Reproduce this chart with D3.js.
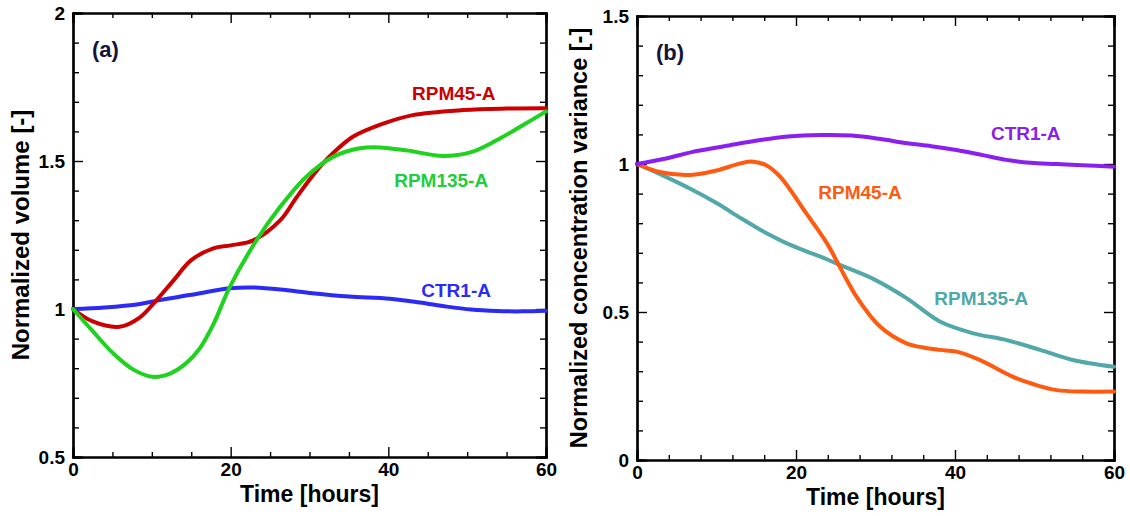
<!DOCTYPE html>
<html>
<head>
<meta charset="utf-8">
<script src="https://cdn.jsdelivr.net/npm/d3@7"></script>
<style>
  html, body { margin: 0; padding: 0; background: #fff; }
  svg { display: block; }
  text { font-family: "Liberation Sans", Arial, sans-serif; font-weight: bold; }
</style>
</head>
<body>
<svg id="chart" width="1130" height="516"></svg>
<script>
// ---- Panel (a): normalized volume ----
const timeVolRpm45 = [0, 2.5, 5.9, 8.5, 10.6, 12.7, 15, 17.8, 20, 22.9, 26.3, 28.4, 31.3, 33, 35.5, 38.9, 43.1, 49.5, 55, 60];
const volRpm45 = [1.0, 0.958, 0.94, 0.972, 1.03, 1.095, 1.165, 1.205, 1.215, 1.232, 1.30, 1.379, 1.48, 1.527, 1.582, 1.622, 1.655, 1.672, 1.677, 1.678];

const timeVolRpm135 = [0, 2.5, 5.1, 7.6, 10.1, 12.3, 14.4, 16.1, 17.8, 19.9, 23.3, 26.3, 29.6, 33, 36.4, 38.9, 42.5, 46.9, 50.5, 53.8, 57, 60];
const volRpm135 = [1.0, 0.925, 0.85, 0.796, 0.771, 0.782, 0.818, 0.868, 0.948, 1.075, 1.233, 1.346, 1.447, 1.514, 1.543, 1.546, 1.535, 1.517, 1.53, 1.571, 1.62, 1.667];

const timeVolCtr1 = [0, 4, 8.5, 11, 14.8, 19.9, 22.5, 26.3, 30.4, 35, 40.2, 44, 47.4, 50.5, 53.8, 57, 60];
const volCtr1 = [1.0, 1.005, 1.017, 1.03, 1.047, 1.07, 1.073, 1.066, 1.053, 1.042, 1.035, 1.022, 1.008, 0.998, 0.993, 0.992, 0.994];

// ---- Panel (b): normalized concentration variance ----
const timeVarCtr1 = [0, 3.5, 7, 11, 15.5, 19, 23, 27, 30.5, 34, 37, 40.2, 43.5, 46.5, 49.5, 52.8, 56, 60];
const varCtr1 = [1.0, 1.018, 1.041, 1.06, 1.081, 1.093, 1.098, 1.096, 1.085, 1.07, 1.06, 1.047, 1.03, 1.014, 1.004, 1.0, 0.996, 0.991];

const timeVarRpm45 = [0, 3, 6.7, 10, 13, 14.6, 16.3, 18, 21.3, 23.9, 25.5, 27.6, 30.6, 33.9, 36, 38.1, 40.2, 43.1, 47.3, 50, 52.8, 56, 60];
const varRpm45 = [1.0, 0.972, 0.963, 0.978, 1.002, 1.008, 0.995, 0.957, 0.833, 0.732, 0.653, 0.552, 0.45, 0.394, 0.38, 0.372, 0.366, 0.338, 0.281, 0.255, 0.236, 0.231, 0.231];

const timeVarRpm135 = [0, 3.5, 7, 10, 13, 15.5, 17.1, 19, 21.3, 23.4, 25.5, 29.7, 33.9, 38.1, 42.3, 46.5, 50.7, 54.8, 60];
const varRpm135 = [1.0, 0.958, 0.912, 0.868, 0.818, 0.778, 0.755, 0.73, 0.705, 0.684, 0.659, 0.612, 0.547, 0.468, 0.428, 0.405, 0.372, 0.338, 0.315];

// ---- Axis ticks ----
const xMajorTicks = [0, 20, 40, 60];
const xMinorTicksA = [5, 10, 15, 25, 30, 35, 45, 50, 55];
const xMinorTicksB = [4, 8, 12, 16, 24, 28, 32, 36, 44, 48, 52, 56];
const yMajorTicksA = [0.5, 1, 1.5, 2];
const yMinorTicksA = [0.6, 0.7, 0.8, 0.9, 1.1, 1.2, 1.3, 1.4, 1.6, 1.7, 1.8, 1.9];
const yMajorTicksB = [0, 0.5, 1, 1.5];
const yMinorTicksB = [0.1, 0.2, 0.3, 0.4, 0.6, 0.7, 0.8, 0.9, 1.1, 1.2, 1.3, 1.4];

// ---- Series labels (anchored in data units) ----
const labelsA = [
  { text: "RPM45-A", t: 48.3, v: 1.73, color: "#cc0000" },
  { text: "RPM135-A", t: 46.7, v: 1.436, color: "#22cc3a" },
  { text: "CTR1-A", t: 48.6, v: 1.064, color: "#2b2bf5" }
];
const labelsB = [
  { text: "CTR1-A", t: 48.9, v: 1.105, color: "#8a22e6" },
  { text: "RPM45-A", t: 28.05, v: 0.905, color: "#ff5a0f" },
  { text: "RPM135-A", t: 43.3, v: 0.547, color: "#4fa8a8" }
];

const svg = d3.select("#chart");

function drawPanel(cfg) {
  const { left, top, right, bottom } = cfg.box;
  const x = d3.scaleLinear().domain([0, 60]).range([left, right]);
  const y = d3.scaleLinear().domain(cfg.yDomain).range([bottom, top]);
  const g = svg.append("g");

  const fmt = d => String(d);

  // Bottom axis with labels (ticks pointing inward)
  const bot = g.append("g").attr("transform", `translate(0,${bottom})`);
  bot.call(d3.axisBottom(x).tickValues(xMajorTicks).tickSize(-10).tickPadding(6).tickFormat(fmt));
  bot.append("g").call(d3.axisBottom(x).tickValues(cfg.xMinor).tickSize(-5).tickFormat(""));
  // Top mirror
  const topAx = g.append("g").attr("transform", `translate(0,${top})`);
  topAx.call(d3.axisTop(x).tickValues(xMajorTicks).tickSize(-10).tickFormat(""));
  topAx.append("g").call(d3.axisTop(x).tickValues(cfg.xMinor).tickSize(-5).tickFormat(""));
  // Left axis with labels
  const lft = g.append("g").attr("transform", `translate(${left},0)`);
  lft.call(d3.axisLeft(y).tickValues(cfg.yMajor).tickSize(-10).tickPadding(8).tickFormat(fmt));
  lft.append("g").call(d3.axisLeft(y).tickValues(cfg.yMinor).tickSize(-6).tickFormat(""));
  // Right mirror
  const rgt = g.append("g").attr("transform", `translate(${right},0)`);
  rgt.call(d3.axisRight(y).tickValues(cfg.yMajor).tickSize(-10).tickFormat(""));
  rgt.append("g").call(d3.axisRight(y).tickValues(cfg.yMinor).tickSize(-6).tickFormat(""));

  g.selectAll(".domain").attr("stroke", "#000").attr("stroke-width", 2.2);
  g.selectAll(".tick line").attr("stroke", "#000").attr("stroke-width", 1.4);
  g.selectAll(".tick text")
    .attr("fill", "#000")
    .style("font-size", "19px")
    .style("font-family", '"Liberation Sans", Arial, sans-serif')
    .style("font-weight", "bold");

  // Curves
  const line = d3.line()
    .x(d => x(d[0]))
    .y(d => y(d[1]))
    .curve(d3.curveCatmullRom.alpha(0.5));
  cfg.series.forEach(s => {
    const pts = s.t.map((t, i) => [t, s.v[i]]);
    g.append("path")
      .attr("d", line(pts))
      .attr("fill", "none")
      .attr("stroke", s.color)
      .attr("stroke-width", 4)
      .attr("stroke-linejoin", "round")
      .attr("stroke-linecap", "round");
  });

  // Series labels
  cfg.labels.forEach(l => {
    g.append("text")
      .attr("x", x(l.t))
      .attr("y", y(l.v))
      .attr("dy", "0.36em")
      .attr("text-anchor", "middle")
      .attr("fill", l.color)
      .style("font-size", "19px")
      .text(l.text);
  });

  // Panel tag
  g.append("text")
    .attr("x", left + 19)
    .attr("y", top + 44)
    .attr("fill", "#15153a")
    .style("font-size", "22px")
    .text(cfg.tag);

  // Axis titles
  g.append("text")
    .attr("x", (left + right) / 2)
    .attr("y", bottom + 45)
    .attr("text-anchor", "middle")
    .attr("fill", "#000")
    .style("font-size", "23px")
    .text("Time [hours]");
  g.append("text")
    .attr("transform", `translate(${cfg.yTitleX},${(top + bottom) / 2}) rotate(-90)`)
    .attr("text-anchor", "middle")
    .attr("fill", "#000")
    .style("font-size", cfg.yTitleSize)
    .text(cfg.yTitle);
}

drawPanel({
  box: { left: 73, top: 13, right: 546, bottom: 457 },
  yDomain: [0.5, 2],
  xMinor: xMinorTicksA,
  yMajor: yMajorTicksA,
  yMinor: yMinorTicksA,
  series: [
    { t: timeVolCtr1, v: volCtr1, color: "#2b2bf5" },
    { t: timeVolRpm45, v: volRpm45, color: "#cc0000" },
    { t: timeVolRpm135, v: volRpm135, color: "#1ed21e" }
  ],
  labels: labelsA,
  tag: "(a)",
  yTitle: "Normalized volume [-]",
  yTitleX: 29,
  yTitleSize: "24px"
});

drawPanel({
  box: { left: 637, top: 16, right: 1114, bottom: 460 },
  yDomain: [0, 1.5],
  xMinor: xMinorTicksB,
  yMajor: yMajorTicksB,
  yMinor: yMinorTicksB,
  series: [
    { t: timeVarRpm135, v: varRpm135, color: "#52a8a8" },
    { t: timeVarRpm45, v: varRpm45, color: "#ff5a0f" },
    { t: timeVarCtr1, v: varCtr1, color: "#8a1ff0" }
  ],
  labels: labelsB,
  tag: "(b)",
  yTitle: "Normalized concentration variance [-]",
  yTitleX: 587,
  yTitleSize: "23.5px"
});
</script>
</body>
</html>
